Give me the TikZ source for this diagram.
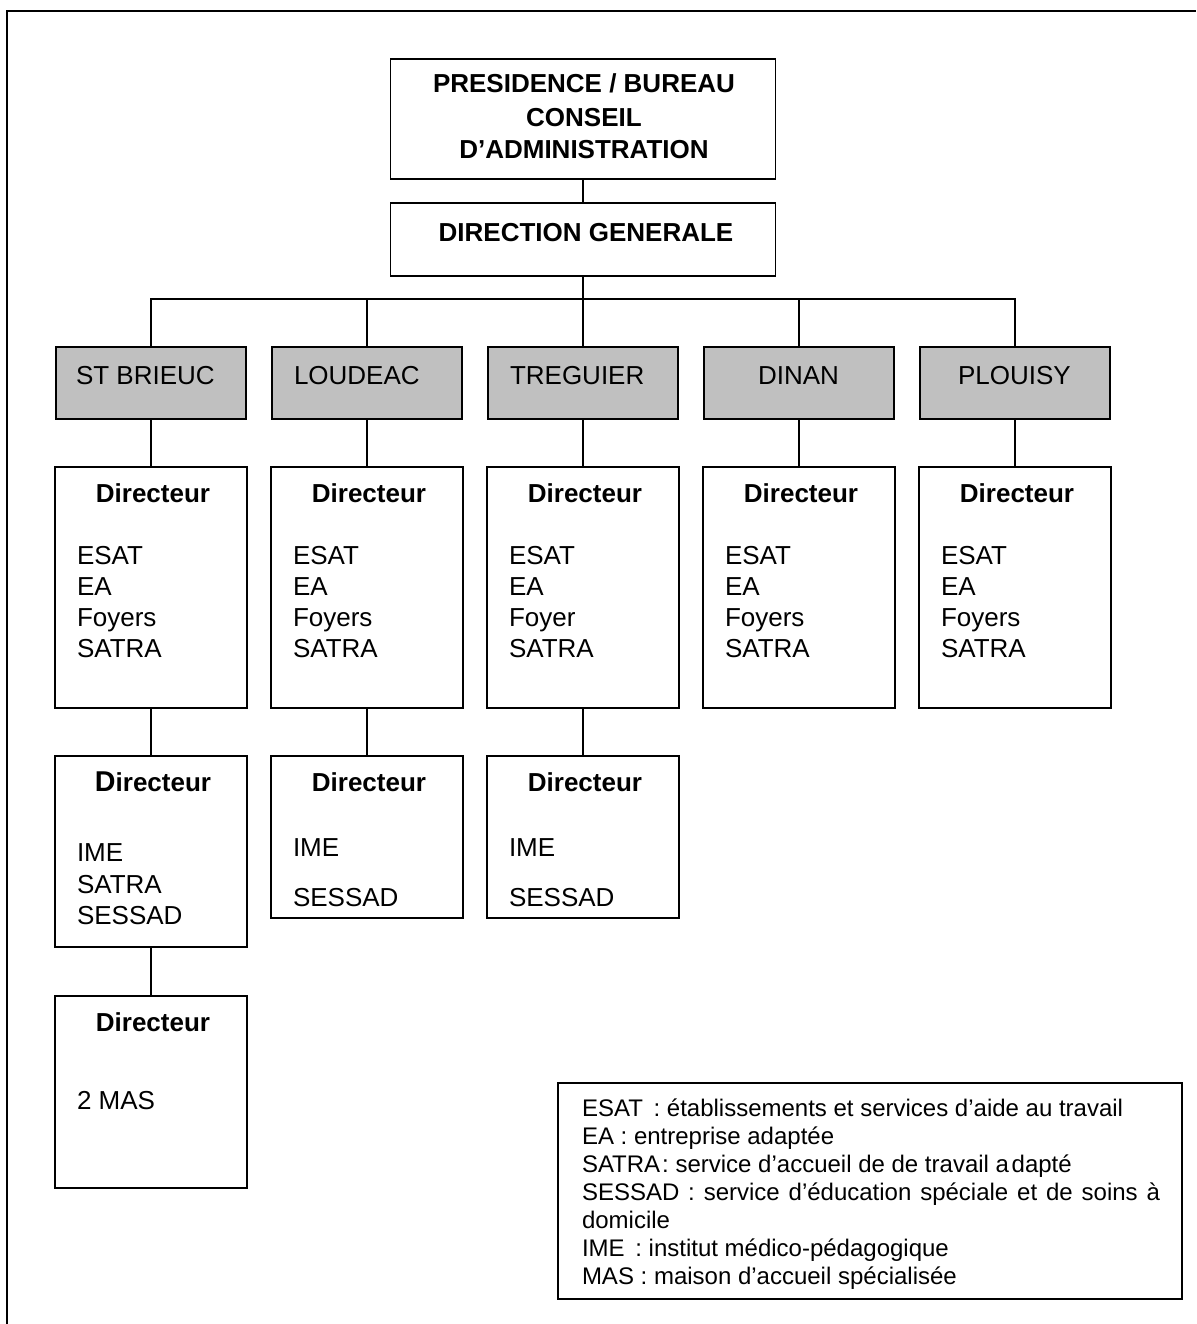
\documentclass[tikz,border=0pt]{standalone}
\usepackage{fontspec}
\setmainfont{Liberation Sans}
\definecolor{boxgray}{HTML}{C0C0C0}
\begin{document}
\begin{tikzpicture}[x=0.75pt,y=-0.75pt,
  every node/.style={inner sep=0pt,outer sep=0pt},
  box/.style={draw,line width=1.4pt,minimum width=192*0.75pt},
  gbox/.style={draw,line width=1.4pt,fill=boxgray,minimum width=190*0.75pt,minimum height=72*0.75pt},
  conn/.style={line width=1.4pt},
  lbl/.style={anchor=base west,font=\fontsize{19.5}{23}\selectfont},
  hd/.style={anchor=base,font=\bfseries\fontsize{19.5}{23}\selectfont},
  leg/.style={anchor=base west,font=\fontsize{18}{21}\selectfont}]
\useasboundingbox (0,0) rectangle (1196,1324);
\draw[line width=2pt] (7,1324) -- (7,11) -- (1196,11);

% top boxes
\node[box,minimum width=385*0.75pt,minimum height=120*0.75pt] (pres) at (583,119) {};
\node[hd] (pres1) at (584,92) {PRESIDENCE / BUREAU};
\node[hd] (pres2) at (584,126) {CONSEIL};
\node[hd] (pres3) at (584,158) {D’ADMINISTRATION};
\node[box,minimum width=385*0.75pt,minimum height=73*0.75pt] (dg) at (583,239.5) {};
\node[hd] (dgt) at (586,241) {DIRECTION GENERALE};
\draw[conn] (pres.south) -- (dg.north);

% branches and first directors
\foreach \i/\n/\dx/\f in {1/ST BRIEUC/-75/Foyers,2/LOUDEAC/-73/Foyers,3/TREGUIER/-73/Foyer,4/DINAN/-41/Foyers,5/PLOUISY/-57/Foyers}{
  \pgfmathsetmacro\cx{151+216*(\i-1)}
  \node[gbox] (b\i) at (\cx,383) {};
  \node[lbl] (bt\i) at (\cx+\dx,384) {\n};
  \node[box,minimum height=241*0.75pt] (d\i) at (\cx,587.5) {};
  \node[hd] (dh\i) at (\cx+2,502) {Directeur};
  \node[lbl] (da\i) at (\cx-74,564) {ESAT};
  \node[lbl] (db\i) at (\cx-74,595) {EA};
  \node[lbl] (dc\i) at (\cx-74,626) {\f};
  \node[lbl] (dd\i) at (\cx-74,657) {SATRA};
  \draw[conn] (b\i.south) -- (d\i.north);
}

% bus
\coordinate (bus) at (583,299);
\draw[conn] (dg.south) -- (bus);
\draw[conn] (b1.north) |- (bus) -| (b5.north);
\draw[conn] (b2.north) -- (b2.north |- bus);
\draw[conn] (b3.north) -- (b3.north |- bus);
\draw[conn] (b4.north) -- (b4.north |- bus);

% second directors
\node[box,minimum height=191*0.75pt] (e1) at (151,851.5) {};
\node[hd] (eh1) at (153,791) {{\fontsize{21.5}{23}\selectfont D}irecteur};
\node[lbl] (ea1) at (77,861) {IME};
\node[lbl] (eb1) at (77,893) {SATRA};
\node[lbl] (ec1) at (77,924) {SESSAD};
\draw[conn] (d1.south) -- (e1.north);

\node[box,minimum height=162*0.75pt] (e2) at (367,837) {};
\node[hd] (eh2) at (369,791) {Directeur};
\node[lbl] (ea2) at (293,856) {IME};
\node[lbl] (eb2) at (293,906) {SESSAD};
\draw[conn] (d2.south) -- (e2.north);

\node[box,minimum height=162*0.75pt] (e3) at (583,837) {};
\node[hd] (eh3) at (585,791) {Directeur};
\node[lbl] (ea3) at (509,856) {IME};
\node[lbl] (eb3) at (509,906) {SESSAD};
\draw[conn] (d3.south) -- (e3.north);

% third director
\node[box,minimum height=192*0.75pt] (f1) at (151,1092) {};
\node[hd] (fh1) at (153,1031) {Directeur};
\node[lbl] (fa1) at (77,1109) {2 MAS};
\draw[conn] (e1.south) -- (f1.north);

% legend
\node[draw,line width=1.4pt,minimum width=624*0.75pt,minimum height=216*0.75pt] (legend) at (870,1191) {};
\node[leg] (l1) at (582,1116) {ESAT \,: établissements et services d’aide au travail};
\node[leg] (l2) at (582,1144) {EA : entreprise adaptée};
\node[leg] (l3) at (582,1172) {SATRA\kern1.5pt: service d’accueil de de travail a\kern2pt dapté};
\node[leg] (l4) at (582,1200) {\hbox to 433.5pt{SESSAD : service d’éducation spéciale et de soins à}};
\node[leg] (l5) at (582,1228) {domicile};
\node[leg] (l6) at (582,1256) {IME \,: institut médico-pédagogique};
\node[leg] (l7) at (582,1284) {MAS : maison d’accueil spécialisée};
\end{tikzpicture}
\end{document}
